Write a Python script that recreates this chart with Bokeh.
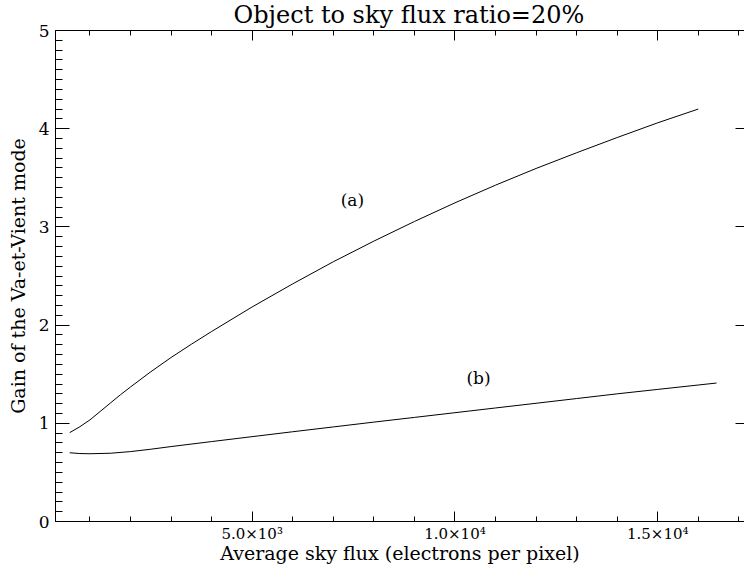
from bokeh.plotting import figure
from bokeh.models import LinearAxis, SingleIntervalTicker, Range1d, Title
from bokeh.embed import file_html
from bokeh.resources import INLINE
from bokeh.core.properties import value

# ---- data ----
sky_flux_a = [500, 750, 1000, 1250, 1500, 1750, 2000, 2500, 3000, 3500, 4000, 5000, 6000, 7000,
              8000, 9000, 10000, 11000, 12000, 13000, 14000, 15000, 16000]
gain_a = [0.905, 0.965, 1.035, 1.12, 1.205, 1.29, 1.37, 1.525, 1.67, 1.805, 1.935, 2.185, 2.42,
          2.645, 2.855, 3.055, 3.245, 3.425, 3.595, 3.755, 3.91, 4.06, 4.20]

sky_flux_b = [500, 750, 1000, 1500, 2000, 2500, 3000, 4000, 5000, 6000, 7000, 8000, 9000,
              10000, 11000, 12000, 13000, 14000, 15000, 16000, 16450]
gain_b = [0.70, 0.692, 0.69, 0.695, 0.712, 0.736, 0.763, 0.814, 0.864, 0.914, 0.963, 1.012,
          1.06, 1.108, 1.156, 1.204, 1.252, 1.30, 1.345, 1.39, 1.41]

x_tick_values = [5000, 10000, 15000]
x_tick_labels = ["5.0×10³", "1.0×10⁴", "1.5×10⁴"]
y_tick_values = [0, 1, 2, 3, 4, 5]
curve_names = ["(a)", "(b)"]

title_text = "Object to sky flux ratio=20%"
x_title = "Average sky flux (electrons per pixel)"
y_title = "Gain of the Va-et-Vient mode"

FONT = "DejaVu Serif"

p = figure(width=744, height=575, output_backend="svg", toolbar_location=None,
           x_range=Range1d(150, 17140), y_range=Range1d(0, 5),
           x_axis_location=None, y_axis_location=None,
           min_border_left=55, min_border_right=0, min_border_top=30, min_border_bottom=54)
p.outline_line_color = None
p.grid.visible = False
p.background_fill_color = "white"
p.border_fill_color = "white"

xt = SingleIntervalTicker(interval=5000, num_minor_ticks=5)
yt = SingleIntervalTicker(interval=1, num_minor_ticks=10)

def style(ax, ticklen, minorlen):
    ax.axis_line_color = "black"
    ax.axis_line_width = 1
    ax.major_tick_line_color = "black"
    ax.minor_tick_line_color = "black"
    ax.major_tick_in = ticklen
    ax.major_tick_out = 0
    ax.minor_tick_in = minorlen
    ax.minor_tick_out = 0
    ax.major_label_text_color = "black"
    ax.axis_label_text_color = "black"

def hide_labels(ax):
    ax.major_label_text_color = None
    ax.major_label_text_font_size = "0px"
    ax.major_label_standoff = 0

bottom = LinearAxis(ticker=xt, axis_label=x_title)
style(bottom, 10, 5)
bottom.major_label_overrides = {v: l for v, l in zip(x_tick_values, x_tick_labels)}
bottom.major_label_text_font = FONT
bottom.major_label_text_font_size = "15px"
bottom.major_label_standoff = 3
bottom.axis_label_text_font = FONT
bottom.axis_label_text_font_size = "19px"
bottom.axis_label_text_font_style = "normal"
bottom.axis_label_standoff = -4
p.add_layout(bottom, "below")

top = LinearAxis(ticker=xt)
style(top, 10, 5)
hide_labels(top)
p.add_layout(top, "above")

left = LinearAxis(ticker=yt, axis_label=y_title)
style(left, 14, 7)
left.major_label_text_font = FONT
left.major_label_text_font_size = "17px"
left.major_label_standoff = 6
left.axis_label_text_font = FONT
left.axis_label_text_font_size = "19px"
left.axis_label_text_font_style = "normal"
left.axis_label_standoff = 7
p.add_layout(left, "left")

right = LinearAxis(ticker=yt)
style(right, 9, 0)
right.axis_line_color = None
right.minor_tick_line_color = None
hide_labels(right)
p.add_layout(right, "right")

p.title = Title(text=title_text, text_font=FONT, text_font_size="24px",
                text_font_style="normal", text_color="black", align="left", offset=178,
                vertical_align="top", standoff=0)

p.line(sky_flux_a, gain_a, line_color="black", line_width=1)
p.line(sky_flux_b, gain_b, line_color="black", line_width=1)

p.text(x=[7470, 10580], y=[3.27, 1.46], text=curve_names, text_font=value(FONT),
       text_font_size="17px", text_align="center", text_baseline="middle", text_color="black")

open("out.html", "w").write(file_html(p, INLINE))
